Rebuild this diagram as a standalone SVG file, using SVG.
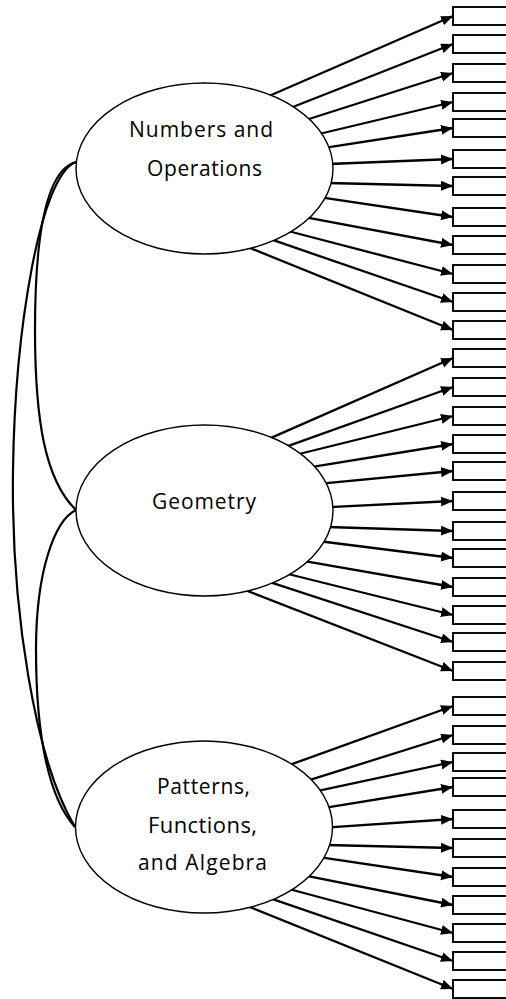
<svg xmlns="http://www.w3.org/2000/svg" width="506" height="999" viewBox="0 0 506 999">
<style>
.bg{fill:#fff}
.cov{fill:none;stroke:#000;stroke-width:2.2}
.arr{fill:none;stroke:#000;stroke-width:2.3;marker-end:url(#ah)}
.lat{fill:#fff;stroke:#000;stroke-width:1.4}
.box{fill:#fff;stroke:#000;stroke-width:1.9}
.lbl{font-family:"Open Sans","Noto Sans",sans-serif;font-size:21px;fill:#000;text-anchor:middle}
</style>
<defs>
<marker id="ah" markerUnits="userSpaceOnUse" markerWidth="13" markerHeight="11" refX="12" refY="5" orient="auto">
<path d="M0,0 L12,5 L0,10 z" fill="#000"/>
</marker>
</defs>
<rect class="bg" x="0" y="0" width="506" height="999"/>
<g id="connectors">
<path class="cov" d="M76,162 C40,175 15,330 13,470 C11,610 35,760 75,827"/>
<path class="cov" d="M76,162 C45,170 35,240 35,330 C35,420 45,480 76,510"/>
<path class="cov" d="M76,510 C55,520 36,570 36,650 C36,740 50,800 75,827"/>
<line class="arr" x1="269" y1="96" x2="453" y2="16"/>
<line class="arr" x1="289" y1="108.5" x2="453" y2="44"/>
<line class="arr" x1="309" y1="119" x2="453" y2="73"/>
<line class="arr" x1="319" y1="134" x2="453" y2="102"/>
<line class="arr" x1="326" y1="147.6" x2="453" y2="128"/>
<line class="arr" x1="329" y1="164" x2="453" y2="159"/>
<line class="arr" x1="328" y1="183" x2="453" y2="186"/>
<line class="arr" x1="321" y1="197.4" x2="453" y2="217"/>
<line class="arr" x1="306" y1="217.3" x2="453" y2="245"/>
<line class="arr" x1="288" y1="231" x2="453" y2="274"/>
<line class="arr" x1="269" y1="238.7" x2="453" y2="302"/>
<line class="arr" x1="246.3" y1="246.5" x2="453" y2="330"/>
<line class="arr" x1="269.3" y1="438.6" x2="453" y2="358"/>
<line class="arr" x1="284.2" y1="447.3" x2="453" y2="387"/>
<line class="arr" x1="299" y1="454" x2="453" y2="416"/>
<line class="arr" x1="314" y1="466.6" x2="453" y2="444"/>
<line class="arr" x1="324" y1="483.4" x2="453" y2="471"/>
<line class="arr" x1="329" y1="507.2" x2="453" y2="501"/>
<line class="arr" x1="328" y1="527" x2="453" y2="531"/>
<line class="arr" x1="322" y1="541.5" x2="453" y2="558"/>
<line class="arr" x1="306" y1="561.3" x2="453" y2="587"/>
<line class="arr" x1="288" y1="574" x2="453" y2="615"/>
<line class="arr" x1="269.2" y1="581.8" x2="453" y2="642"/>
<line class="arr" x1="246.3" y1="590.5" x2="453" y2="671"/>
<line class="arr" x1="291.2" y1="764.4" x2="453" y2="706"/>
<line class="arr" x1="309.2" y1="780.2" x2="453" y2="735"/>
<line class="arr" x1="318" y1="790.8" x2="453" y2="762"/>
<line class="arr" x1="326" y1="807.7" x2="453" y2="787"/>
<line class="arr" x1="329" y1="827.3" x2="453" y2="819"/>
<line class="arr" x1="326" y1="845" x2="453" y2="848"/>
<line class="arr" x1="321" y1="857.4" x2="453" y2="877"/>
<line class="arr" x1="308" y1="876.2" x2="453" y2="905"/>
<line class="arr" x1="289" y1="889" x2="453" y2="933"/>
<line class="arr" x1="271.2" y1="898.7" x2="453" y2="961"/>
<line class="arr" x1="248.3" y1="906.5" x2="453" y2="989"/>
</g>
<g id="numbers-operations">
<ellipse class="lat" cx="204.5" cy="168.5" rx="128.5" ry="85.5"/>
<text class="lbl" x="201" y="137" textLength="144" lengthAdjust="spacing">Numbers and</text>
<text class="lbl" x="204.5" y="176" textLength="115" lengthAdjust="spacing">Operations</text>
</g>
<g id="geometry">
<ellipse class="lat" cx="204.5" cy="510.5" rx="128.5" ry="85.5"/>
<text class="lbl" x="204" y="509" textLength="104" lengthAdjust="spacing">Geometry</text>
</g>
<g id="patterns-functions-algebra">
<ellipse class="lat" cx="204" cy="827" rx="128.5" ry="86"/>
<text class="lbl" x="203.5" y="794" textLength="93" lengthAdjust="spacing">Patterns,</text>
<text class="lbl" x="202.5" y="833" style="font-size:22px" textLength="109" lengthAdjust="spacing">Functions,</text>
<text class="lbl" x="202.5" y="870" textLength="129" lengthAdjust="spacing">and Algebra</text>
</g>
<g id="indicators-1">
<rect id="i1" class="box" x="453" y="7" width="70" height="18"/>
<rect id="i2" class="box" x="453" y="35" width="70" height="18"/>
<rect id="i3" class="box" x="453" y="64" width="70" height="18"/>
<rect id="i4" class="box" x="453" y="93" width="70" height="18"/>
<rect id="i5" class="box" x="453" y="119" width="70" height="18"/>
<rect id="i6" class="box" x="453" y="150" width="70" height="18"/>
<rect id="i7" class="box" x="453" y="177" width="70" height="18"/>
<rect id="i8" class="box" x="453" y="208" width="70" height="18"/>
<rect id="i9" class="box" x="453" y="236" width="70" height="18"/>
<rect id="i10" class="box" x="453" y="265" width="70" height="18"/>
<rect id="i11" class="box" x="453" y="293" width="70" height="18"/>
<rect id="i12" class="box" x="453" y="321" width="70" height="18"/>
</g>
<g id="indicators-2">
<rect id="i13" class="box" x="453" y="349" width="70" height="18"/>
<rect id="i14" class="box" x="453" y="378" width="70" height="18"/>
<rect id="i15" class="box" x="453" y="407" width="70" height="18"/>
<rect id="i16" class="box" x="453" y="435" width="70" height="18"/>
<rect id="i17" class="box" x="453" y="462" width="70" height="18"/>
<rect id="i18" class="box" x="453" y="492" width="70" height="18"/>
<rect id="i19" class="box" x="453" y="522" width="70" height="18"/>
<rect id="i20" class="box" x="453" y="549" width="70" height="18"/>
<rect id="i21" class="box" x="453" y="578" width="70" height="18"/>
<rect id="i22" class="box" x="453" y="606" width="70" height="18"/>
<rect id="i23" class="box" x="453" y="633" width="70" height="18"/>
<rect id="i24" class="box" x="453" y="662" width="70" height="18"/>
</g>
<g id="indicators-3">
<rect id="i25" class="box" x="453" y="697" width="70" height="18"/>
<rect id="i26" class="box" x="453" y="726" width="70" height="18"/>
<rect id="i27" class="box" x="453" y="753" width="70" height="18"/>
<rect id="i28" class="box" x="453" y="778" width="70" height="18"/>
<rect id="i29" class="box" x="453" y="810" width="70" height="18"/>
<rect id="i30" class="box" x="453" y="839" width="70" height="18"/>
<rect id="i31" class="box" x="453" y="868" width="70" height="18"/>
<rect id="i32" class="box" x="453" y="896" width="70" height="18"/>
<rect id="i33" class="box" x="453" y="924" width="70" height="18"/>
<rect id="i34" class="box" x="453" y="952" width="70" height="18"/>
<rect id="i35" class="box" x="453" y="980" width="70" height="18"/>
</g>
</svg>
